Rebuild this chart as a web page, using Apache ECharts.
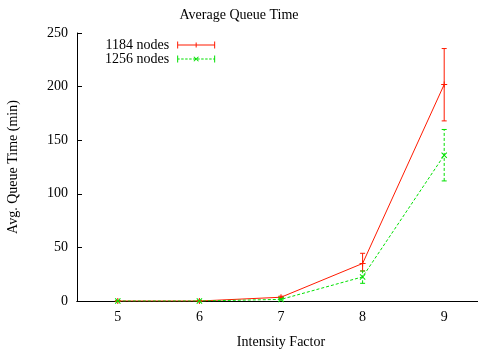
<!DOCTYPE html>
<html><head><meta charset="utf-8">
<script src="https://cdn.jsdelivr.net/npm/echarts@6/dist/echarts.min.js"></script>
<style>html,body{margin:0;padding:0;background:#fff}#c{width:478px;height:351px}</style>
</head><body><div id="c"></div>
<script>
const categories = ['5', '6', '7', '8', '9'];
const yTicks = [0, 50, 100, 150, 200, 250];
const names = ['1184 nodes', '1256 nodes'];
const s1184 = [0, 0, 3.5, 35, 202];
const s1184Low = [0, 0, 2.5, 28, 168];
const s1184High = [0, 0, 4.5, 44.5, 235.5];
const s1256 = [0, 0, 1.5, 22.5, 136];
const s1256Low = [0, 0, 1, 16.5, 112];
const s1256High = [0, 0, 2, 28, 160];

const RED = '#ff1a00';
const GREEN = '#00e000';
const FONT = '"Liberation Serif", "DejaVu Serif", serif';
const FS = 14;

function errData(lo, hi) { return categories.map((c, i) => [i, lo[i], hi[i]]); }
function errRender(color, dash) {
  return function (params, api) {
    const x = api.value(0);
    const p1 = api.coord([x, api.value(1)]);
    const p2 = api.coord([x, api.value(2)]);
    const w = 2.5;
    const st = { stroke: color, lineWidth: 1, lineDash: dash };
    return { type: 'group', children: [
      { type: 'line', shape: { x1: p1[0], y1: p1[1], x2: p2[0], y2: p2[1] }, style: st },
      { type: 'line', shape: { x1: p1[0] - w, y1: p1[1], x2: p1[0] + w, y2: p1[1] }, style: { stroke: color, lineWidth: 1 } },
      { type: 'line', shape: { x1: p2[0] - w, y1: p2[1], x2: p2[0] + w, y2: p2[1] }, style: { stroke: color, lineWidth: 1 } }
    ]};
  };
}
// legend icons built from thin rects (all inside a 38x7 box)
const iconRed = 'path://M0,0h1v7h-1z M0,3h38v1h-38z M37,0h1v7h-1z M18.5,1h1v5h-1z';
let g = 'path://M0,0h1v7h-1z M37,0h1v7h-1z M16.3,1.6L17,1L21.7,5.4L21,6Z M21,1L21.7,1.6L17,6L16.3,5.4Z';
for (let x = 0; x < 38; x += 4) { const w = Math.min(2.5, 38 - x); g += ' M' + x + ',3h' + w + 'v1h-' + w + 'z'; }
const iconGreen = g;

const plus = 'path://M0,2.5h6v1h-6z M2.5,0h1v6h-1z';
const cross = 'path://M0,0.7l0.7,-0.7l2.3,2.3l2.3,-2.3l0.7,0.7l-2.3,2.3l2.3,2.3l-0.7,0.7l-2.3,-2.3l-2.3,2.3l-0.7,-0.7l2.3,-2.3z';

const chart = echarts.init(document.getElementById('c'), null, { renderer: 'canvas' });
chart.setOption({
  animation: false,
  backgroundColor: '#fff',
  textStyle: { fontFamily: FONT },
  title: { text: 'Average Queue Time', left: 'center', top: 3,
    textStyle: { fontFamily: FONT, fontSize: FS, fontWeight: 'normal', color: '#000' } },
  legend: {
    orient: 'vertical', left: 105, top: 38, align: 'right', padding: 0,
    itemWidth: 38, itemHeight: 7, itemGap: 0,
    textStyle: { fontFamily: FONT, fontSize: FS, lineHeight: 14, color: '#000', padding: [0, 3, 0, 0] },
    data: [ { name: names[0], icon: iconRed }, { name: names[1], icon: iconGreen } ]
  },
  grid: { left: 77, width: 408, top: 33, height: 268, outerBoundsMode: 'none', containLabel: false },
  xAxis: [{
    type: 'category', data: categories, boundaryGap: true,
    name: 'Intensity Factor', nameLocation: 'middle', nameGap: 34,
    nameTextStyle: { fontFamily: FONT, fontSize: FS, color: '#000' },
    axisLine: { lineStyle: { color: '#000', width: 1 } },
    axisTick: { inside: true, alignWithLabel: true, length: 5, lineStyle: { color: '#000' } },
    axisLabel: { fontFamily: FONT, fontSize: FS, color: '#000', margin: 9 },
    splitLine: { show: false }
  }, {
    type: 'category', data: categories, position: 'top', boundaryGap: true,
    axisLine: { lineStyle: { color: '#000', width: 1 } },
    axisTick: { inside: true, alignWithLabel: true, length: 5, lineStyle: { color: '#000' } },
    axisLabel: { show: false }, splitLine: { show: false }
  }],
  yAxis: [{
    type: 'value', min: 0, max: 250, interval: 50,
    name: 'Avg. Queue Time (min)', nameLocation: 'middle', nameGap: 57,
    nameTextStyle: { fontFamily: FONT, fontSize: FS, color: '#000' },
    axisLine: { show: true, lineStyle: { color: '#000', width: 1 } },
    axisTick: { show: true, inside: true, length: 5, lineStyle: { color: '#000' } },
    axisLabel: { fontFamily: FONT, fontSize: FS, color: '#000', margin: 9,
      formatter: v => yTicks.includes(v) ? String(v) : '' },
    splitLine: { show: false }
  }, {
    type: 'value', min: 0, max: 250, interval: 50, position: 'right',
    axisLine: { show: true, lineStyle: { color: '#000' } },
    axisTick: { show: true, inside: true, length: 5 }, axisLabel: { show: false },
    splitLine: { show: false }
  }],
  series: [
    { name: names[0], type: 'line', data: s1184, color: RED,
      lineStyle: { color: RED, width: 1 }, symbol: plus, symbolSize: 6,
      itemStyle: { color: RED }, z: 3 },
    { name: names[1], type: 'line', data: s1256, color: GREEN,
      lineStyle: { color: GREEN, width: 1, type: [3, 2] }, symbol: cross, symbolSize: 6,
      itemStyle: { color: GREEN }, z: 3 },
    { name: names[0], type: 'custom', data: errData(s1184Low, s1184High),
      renderItem: errRender(RED, null), z: 2 },
    { name: names[1], type: 'custom', data: errData(s1256Low, s1256High),
      renderItem: errRender(GREEN, [3, 2]), z: 2 }
  ]
});
</script></body></html>
